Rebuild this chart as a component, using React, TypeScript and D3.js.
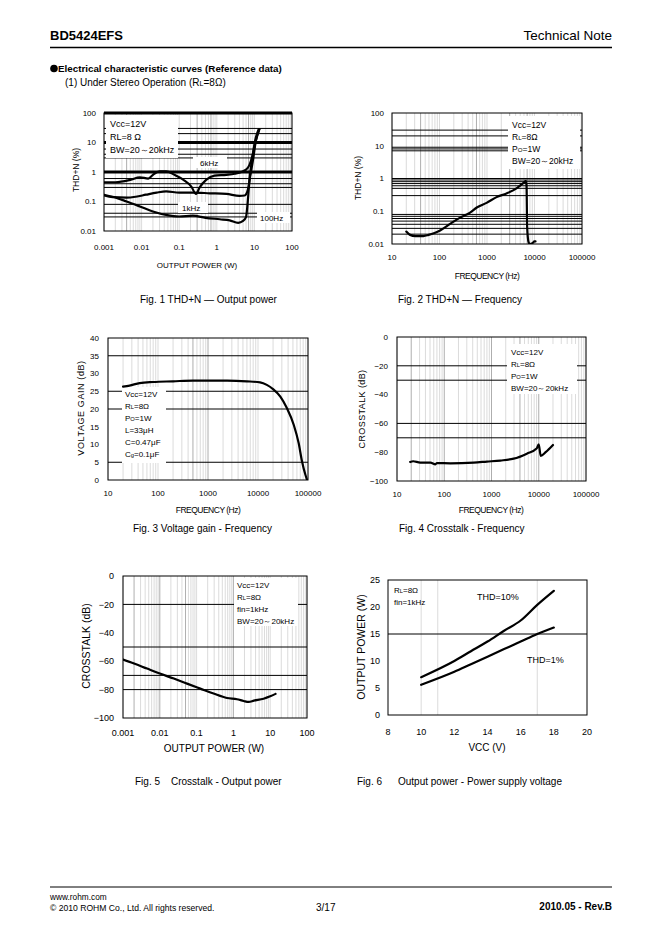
import React from 'react';
import * as d3 from 'd3';

const FONT = '"Liberation Sans", Arial, Helvetica, sans-serif';

type Pt = [number, number];

// Fig.1 THD+N - Output power  [W, %]
const fig1Curve6k: Pt[] = [
  [0.001, 0.45], [0.002, 0.45], [0.005, 0.54], [0.009, 0.66], [0.015, 0.6], [0.02, 0.8],
  [0.03, 1.05], [0.045, 1.05], [0.075, 0.8], [0.13, 0.54], [0.21, 0.32], [0.28, 0.18],
  [0.35, 0.3], [0.52, 0.54], [0.87, 0.75], [1.8, 0.8], [3, 0.87], [6, 1.2], [7.4, 1.75],
  [8.8, 3.4], [11, 12], [13.5, 28],
];
const fig1Curve1k: Pt[] = [
  [0.001, 0.16], [0.0017, 0.14], [0.004, 0.135], [0.007, 0.145], [0.013, 0.17], [0.025, 0.2],
  [0.045, 0.22], [0.1, 0.2], [0.23, 0.2], [0.65, 0.19], [1.8, 0.18], [4, 0.155], [5.5, 0.16],
  [6.7, 0.25], [7.7, 0.7], [9.2, 2.6], [11, 12], [13.5, 28],
];
const fig1Curve100: Pt[] = [
  [0.001, 0.17], [0.0017, 0.145], [0.004, 0.1], [0.009, 0.068], [0.02, 0.046], [0.045, 0.035],
  [0.1, 0.031], [0.23, 0.033], [0.5, 0.028], [1.2, 0.025], [2.2, 0.023], [3.7, 0.019],
  [5, 0.022], [6, 0.03], [6.7, 0.11], [7.4, 0.54], [8.8, 3], [10.5, 12], [13, 28],
];
const fig1XTicks = [0.001, 0.01, 0.1, 1, 10, 100];
const fig1XLabels = ['0.001', '0.01', '0.1', '1', '10', '100'];
const fig1YTicks = [0.01, 0.1, 1, 10, 100];
const fig1YLabels = ['0.01', '0.1', '1', '10', '100'];
const fig1HLines = [30, 20, 6, 4, 3, 0.6, 0.4, 0.3, 0.08, 0.04, 0.03];
const fig1HThick = [100, 10, 1];

// Fig.2 THD+N - Frequency  [Hz, %]
const fig2Curve: Pt[] = [
  [20, 0.024], [24, 0.019], [31, 0.0175], [46, 0.0175], [59, 0.019], [81, 0.022], [103, 0.026],
  [167, 0.041], [272, 0.064], [440, 0.091], [610, 0.13], [980, 0.18], [1590, 0.27],
  [2580, 0.35], [4180, 0.5], [5770, 0.72], [6600, 0.85], [6800, 0.57], [7000, 0.034],
  [7500, 0.0115], [8000, 0.01], [9000, 0.0105], [10000, 0.012], [10500, 0.012],
];
const fig2XTicks = [10, 100, 1000, 10000, 100000];
const fig2XLabels = ['10', '100', '1000', '10000', '100000'];
const fig2YTicks = [0.01, 0.1, 1, 10, 100];
const fig2YLabels = ['0.01', '0.1', '1', '10', '100'];
const fig2HLines = [30, 20, 9, 8, 7, 1, 0.9, 0.8, 0.7, 0.6, 0.5, 0.3, 0.08, 0.07, 0.06, 0.05, 0.04, 0.03, 0.02];

// Fig.3 Voltage gain - Frequency  [Hz, dB]
const fig3Curve: Pt[] = [
  [20, 26.3], [27, 26.6], [43, 27.3], [80, 27.6], [200, 27.8], [500, 28], [2400, 28],
  [6000, 27.8], [11000, 27.5], [15000, 26.8], [20000, 25.6], [28000, 23.5], [38000, 20.2],
  [52000, 15.5], [65000, 10.4], [76000, 5.2], [89000, 1.4], [96000, 0],
];
const fig3XTicks = [10, 100, 1000, 10000, 100000];
const fig3XLabels = ['10', '100', '1000', '10000', '100000'];
const fig3YTicks = [0, 5, 10, 15, 20, 25, 30, 35, 40];
const fig3YLabels = ['0', '5', '10', '15', '20', '25', '30', '35', '40'];
const fig3HLines = [35, 25, 20, 5];

// Fig.4 Crosstalk - Frequency  [Hz, dB]
const fig4Curve: Pt[] = [
  [19, -86.8], [22, -86.3], [31, -87.2], [51, -87.2], [65, -88.4], [70, -87.5], [135, -87.7],
  [420, -87.2], [800, -86.5], [1540, -85.8], [2950, -84.5], [5600, -81], [9000, -77.5],
  [10000, -74.5], [11000, -82.5], [14000, -80], [20000, -75],
];
const fig4XTicks = [10, 100, 1000, 10000, 100000];
const fig4XLabels = ['10', '100', '1000', '10000', '100000'];
const fig4YTicks = [0, -20, -40, -60, -80, -100];
const fig4YLabels = ['0', '−20', '−40', '−60', '−80', '−100'];
const fig4HLines = [-20, -30, -60, -70];

// Fig.5 Crosstalk - Output power  [W, dB]
const fig5Curve: Pt[] = [
  [0.001, -58.8], [0.002, -61.6], [0.0045, -65.2], [0.01, -68.7], [0.024, -72.2],
  [0.055, -75.8], [0.126, -79.3], [0.29, -82.8], [0.67, -85.9], [1.25, -86.8], [1.9, -88],
  [2.6, -88.7], [3.6, -87.8], [6.6, -86.4], [10, -84.7], [14, -83],
];
const fig5XTicks = [0.001, 0.01, 0.1, 1, 10, 100];
const fig5XLabels = ['0.001', '0.01', '0.1', '1', '10', '100'];
const fig5YTicks = [0, -20, -40, -60, -80, -100];
const fig5YLabels = ['0', '−20', '−40', '−60', '−80', '−100'];
const fig5HLines = [-20, -50, -70, -80];

// Fig.6 Output power - Power supply voltage  [V, W]
const fig6Vcc = [10, 12, 13, 14, 15, 16, 17, 18];
const fig6Thd10 = [7, 10, 11.8, 13.6, 15.6, 17.5, 20.4, 23];
const fig6Thd1 = [5.6, 8, 9.4, 10.8, 12.2, 13.6, 15, 16.2];
const fig6XTicks = [8, 10, 12, 14, 16, 18, 20];
const fig6YTicks = [0, 5, 10, 15, 20, 25];
const fig6HLines = [15];
const fig6VLines = [10, 11, 17];

interface PanelProps {
  id: string;
  xs: any;
  ys: any;
  xTicks: number[];
  xLabels: string[];
  yTicks: number[];
  yLabels: string[];
  vLines: number[];
  vDark?: number[];
  hLines: number[];
  hThick?: number[];
  curves: Pt[][];
  fs: number;
  xLabelY: number;
  yLabelGap: number;
  xTitle: string;
  xTitleX: number;
  xTitleY: number;
  xTitleFs: number;
  yTitle: string;
  yTitleX: number;
  yTitleY: number;
  yTitleFs: number;
  xSpacing?: number;
  ySpacing?: number;
  children?: React.ReactNode;
}

const Panel = (p: PanelProps) => {
  const [x0, x1] = p.xs.range();
  const [y1, y0] = p.ys.range();
  const line = d3.line<Pt>()
    .x(d => p.xs(d[0]))
    .y(d => p.ys(d[1]))
    .curve(d3.curveMonotoneX);
  return (
    <g>
      <defs>
        <clipPath id={`clip-${p.id}`}>
          <rect x={x0} y={y0 - 2} width={x1 - x0} height={y1 - y0 + 2} />
        </clipPath>
      </defs>
      {p.vLines.map((v, i) => (
        <line key={`v${i}`} x1={p.xs(v)} x2={p.xs(v)} y1={y0} y2={y1}
          stroke={p.vDark && p.vDark.includes(v) ? '#999' : '#d2d2d2'} strokeWidth={0.8} />
      ))}
      {p.hLines.map((v, i) => (
        <line key={`h${i}`} x1={x0} x2={x1} y1={p.ys(v)} y2={p.ys(v)} stroke="#000" strokeWidth={1} />
      ))}
      {(p.hThick || []).map((v, i) => (
        <line key={`t${i}`} x1={x0} x2={x1} y1={p.ys(v)} y2={p.ys(v)} stroke="#000" strokeWidth={3} />
      ))}
      {p.children}
      <g clipPath={`url(#clip-${p.id})`}>
        {p.curves.map((c, i) => (
          <path key={`c${i}`} d={line(c) || ''} fill="none" stroke="#000" strokeWidth={2.2}
            strokeLinejoin="round" strokeLinecap="round" />
        ))}
      </g>
      <rect x={x0} y={y0} width={x1 - x0} height={y1 - y0} fill="none" stroke="#000" strokeWidth={1} />
      <g fontFamily={FONT} fontSize={p.fs} fill="#000">
        {p.xTicks.map((v, i) => (
          <text key={`xl${i}`} x={p.xs(v)} y={p.xLabelY} textAnchor="middle">{p.xLabels[i]}</text>
        ))}
        {p.yTicks.map((v, i) => (
          <text key={`yl${i}`} x={x0 - p.yLabelGap} y={p.ys(v)} dy="0.35em" textAnchor="end">{p.yLabels[i]}</text>
        ))}
      </g>
      <text x={p.xTitleX} y={p.xTitleY} textAnchor="middle" fontFamily={FONT} fontSize={p.xTitleFs}
        letterSpacing={p.xSpacing || 0}>{p.xTitle}</text>
      <text transform={`translate(${p.yTitleX},${p.yTitleY}) rotate(-90)`} dy="0.35em" textAnchor="middle"
        fontFamily={FONT} fontSize={p.yTitleFs} letterSpacing={p.ySpacing || 0}>{p.yTitle}</text>
    </g>
  );
};

const Sub = ({ t }: { t: string }) => <tspan fontSize="0.72em">{t}</tspan>;

const Note = ({ x, y, lines, fs = 8, gap, box }: { x: number; y: number; lines: React.ReactNode[]; fs?: number; gap?: number; box?: [number, number, number, number] }) => (
  <g>
    {box && <rect x={box[0]} y={box[1]} width={box[2]} height={box[3]} fill="#fff" />}
    <g fontFamily={FONT} fontSize={fs}>
      {lines.map((l, i) => (
        <text key={i} x={x} y={y + i * (gap || fs + 4)}>{l}</text>
      ))}
    </g>
  </g>
);

const logMinor = (s: any) => s.ticks();

export default function App() {
  // Fig.1
  const x1s = d3.scaleLog().domain([0.001, 100]).range([104, 292]);
  const y1s = d3.scaleLog().domain([0.01, 100]).range([231, 113]);
  // Fig.2
  const x2s = d3.scaleLog().domain([10, 100000]).range([392, 582]);
  const y2s = d3.scaleLog().domain([0.01, 100]).range([244, 113]);
  // Fig.3
  const x3s = d3.scaleLog().domain([10, 100000]).range([108, 308]);
  const y3s = d3.scaleLinear().domain([0, 40]).range([480, 338]);
  // Fig.4
  const x4s = d3.scaleLog().domain([10, 100000]).range([397, 586]);
  const y4s = d3.scaleLinear().domain([-100, 0]).range([481, 337]);
  // Fig.5
  const x5s = d3.scaleLog().domain([0.001, 100]).range([123, 307]);
  const y5s = d3.scaleLinear().domain([-100, 0]).range([718, 576]);
  // Fig.6
  const x6s = d3.scaleLinear().domain([8, 20]).range([388, 587]);
  const y6s = d3.scaleLinear().domain([0, 25]).range([715, 580]);

  const fig6Curve10: Pt[] = fig6Vcc.map((v, i) => [v, fig6Thd10[i]]);
  const fig6Curve1: Pt[] = fig6Vcc.map((v, i) => [v, fig6Thd1[i]]);

  const cap = { fontFamily: FONT, fontSize: 10 };

  return (
    <div style={{ position: 'absolute', left: 0, top: 0 }}>
      <svg width={662} height={936} viewBox="0 0 662 936" style={{ display: 'block', background: '#fff' }}>
        {/* header */}
        <text x={50} y={40} fontFamily={FONT} fontSize={13} fontWeight="bold">BD5424EFS</text>
        <text x={612} y={40} fontFamily={FONT} fontSize={13.5} textAnchor="end">Technical Note</text>
        <line x1={50} x2={612} y1={47.5} y2={47.5} stroke="#000" strokeWidth={1.5} />
        <circle cx={54} cy={68.5} r={3.8} fill="#000" />
        <text x={58} y={72} fontFamily={FONT} fontSize={9.8} fontWeight="bold">Electrical characteristic curves (Reference data)</text>
        <text x={65} y={85.5} fontFamily={FONT} fontSize={10}>(1) Under Stereo Operation (R<Sub t="L" />=8Ω)</text>

        {/* Fig.1 */}
        <Panel id="f1" xs={x1s} ys={y1s} xTicks={fig1XTicks} xLabels={fig1XLabels}
          yTicks={fig1YTicks} yLabels={fig1YLabels} vLines={logMinor(x1s)} vDark={[0.004, 0.3, 0.7, 7]}
          hLines={fig1HLines} hThick={fig1HThick} curves={[fig1Curve6k, fig1Curve1k, fig1Curve100]}
          fs={8} xLabelY={250} yLabelGap={8} xTitle="OUTPUT POWER (W)" xTitleX={197} xTitleY={268}
          xTitleFs={8} yTitle="THD+N (%)" yTitleX={76} yTitleY={170} yTitleFs={8.5}>
          <Note x={110} y={126.5} fs={9} gap={13} box={[106, 115, 72, 43]}
            lines={['Vcc=12V', 'RL=8 Ω', 'BW=20～20kHz']} />
          <Note x={200} y={166} fs={8} box={[193, 157, 34, 11]} lines={['6kHz']} />
          <Note x={182} y={211} fs={8} box={[178, 202, 30, 11]} lines={['1kHz']} />
          <Note x={260} y={221} fs={8} box={[257, 212, 33, 11]} lines={['100Hz']} />
        </Panel>
        <text x={140} y={302.5} {...cap}>Fig. 1 THD+N  —  Output power</text>

        {/* Fig.2 */}
        <Panel id="f2" xs={x2s} ys={y2s} xTicks={fig2XTicks} xLabels={fig2XLabels}
          yTicks={fig2YTicks} yLabels={fig2YLabels} vLines={logMinor(x2s)} vDark={[40, 600, 3000, 7000]}
          hLines={fig2HLines} curves={[fig2Curve]}
          fs={8} xLabelY={260} yLabelGap={8} xTitle="FREQUENCY (Hz)" xTitleX={487} xTitleY={279}
          xTitleFs={8.5} xSpacing={-0.5} yTitle="THD+N (%)" yTitleX={358} yTitleY={178} yTitleFs={8.5}>
          <Note x={512} y={127.5} fs={8.5} gap={12.3} box={[508, 116, 72, 53]}
            lines={['Vcc=12V', <>R<Sub t="L" />=8Ω</>, <>P<Sub t="O" />=1W</>, 'BW=20～20kHz']} />
        </Panel>
        <text x={398} y={302.5} {...cap}>Fig. 2 THD+N  —  Frequency</text>

        {/* Fig.3 */}
        <Panel id="f3" xs={x3s} ys={y3s} xTicks={fig3XTicks} xLabels={fig3XLabels}
          yTicks={fig3YTicks} yLabels={fig3YLabels} vLines={logMinor(x3s)} vDark={[500, 1000]}
          hLines={fig3HLines} curves={[fig3Curve]}
          fs={8} xLabelY={496} yLabelGap={9} xTitle="FREQUENCY (Hz)" xTitleX={208} xTitleY={513}
          xTitleFs={8.5} xSpacing={-0.5} yTitle="VOLTAGE GAIN (dB)" yTitleX={81} yTitleY={408}
          yTitleFs={9} ySpacing={0.6}>
          <Note x={125} y={397} fs={8} box={[122, 387, 44, 76]}
            lines={['Vcc=12V', <>R<Sub t="L" />=8Ω</>, <>P<Sub t="O" />=1W</>, 'L=33μH', 'C=0.47μF', <>C<Sub t="g" />=0.1μF</>]} />
        </Panel>
        <text x={133} y={531.5} {...cap}>Fig. 3 Voltage gain - Frequency</text>

        {/* Fig.4 */}
        <Panel id="f4" xs={x4s} ys={y4s} xTicks={fig4XTicks} xLabels={fig4XLabels}
          yTicks={fig4YTicks} yLabels={fig4YLabels} vLines={logMinor(x4s)} vDark={[20, 100, 1000, 4000, 10000]}
          hLines={fig4HLines} curves={[fig4Curve]}
          fs={8} xLabelY={497} yLabelGap={9} xTitle="FREQUENCY (Hz)" xTitleX={491} xTitleY={513}
          xTitleFs={8.5} xSpacing={-0.5} yTitle="CROSSTALK (dB)" yTitleX={362} yTitleY={409}
          yTitleFs={9} ySpacing={0.4}>
          <Note x={511} y={355} fs={8} box={[507, 344, 70, 50]}
            lines={['Vcc=12V', <>R<Sub t="L" />=8Ω</>, <>P<Sub t="O" />=1W</>, 'BW=20～20kHz']} />
        </Panel>
        <text x={399} y={531.5} {...cap}>Fig. 4 Crosstalk - Frequency</text>

        {/* Fig.5 */}
        <Panel id="f5" xs={x5s} ys={y5s} xTicks={fig5XTicks} xLabels={fig5XLabels}
          yTicks={fig5YTicks} yLabels={fig5YLabels} vLines={logMinor(x5s)} vDark={[0.002, 0.01, 0.05, 1]}
          hLines={fig5HLines} curves={[fig5Curve]}
          fs={9} xLabelY={736} yLabelGap={9} xTitle="OUTPUT POWER (W)" xTitleX={214} xTitleY={752}
          xTitleFs={10} yTitle="CROSSTALK (dB)" yTitleX={86} yTitleY={646} yTitleFs={10.5}>
          <Note x={237} y={588} fs={8} box={[234, 578, 64, 48]}
            lines={['Vcc=12V', <>R<Sub t="L" />=8Ω</>, 'fin=1kHz', 'BW=20～20kHz']} />
        </Panel>
        <text x={135} y={785} {...cap}>Fig. 5</text>
        <text x={171} y={785} {...cap}>Crosstalk - Output power</text>

        {/* Fig.6 */}
        <Panel id="f6" xs={x6s} ys={y6s} xTicks={fig6XTicks} xLabels={fig6XTicks.map(String)}
          yTicks={fig6YTicks} yLabels={fig6YTicks.map(String)} vLines={fig6VLines}
          hLines={fig6HLines} curves={[fig6Curve10, fig6Curve1]}
          fs={9} xLabelY={735} yLabelGap={8} xTitle="VCC (V)" xTitleX={487} xTitleY={751}
          xTitleFs={10} yTitle="OUTPUT POWER (W)" yTitleX={361} yTitleY={647} yTitleFs={10.5}>
          <Note x={394} y={593} fs={8} lines={[<>R<Sub t="L" />=8Ω</>, 'fin=1kHz']} />
          <Note x={477} y={600} fs={9} lines={['THD=10%']} />
          <Note x={527} y={663} fs={9} lines={['THD=1%']} />
        </Panel>
        <text x={357} y={785} {...cap}>Fig. 6</text>
        <text x={398} y={785} {...cap}>Output power - Power supply voltage</text>

        {/* footer */}
        <line x1={50} x2={612} y1={887} y2={887} stroke="#000" strokeWidth={1} />
        <text x={50} y={900} fontFamily={FONT} fontSize={8.3}>www.rohm.com</text>
        <text x={50} y={911} fontFamily={FONT} fontSize={8.6}>© 2010 ROHM Co., Ltd. All rights reserved.</text>
        <text x={316} y={911} fontFamily={FONT} fontSize={10}>3/17</text>
        <text x={612} y={910} fontFamily={FONT} fontSize={10} fontWeight="bold" textAnchor="end">2010.05  -  Rev.B</text>
      </svg>
    </div>
  );
}
